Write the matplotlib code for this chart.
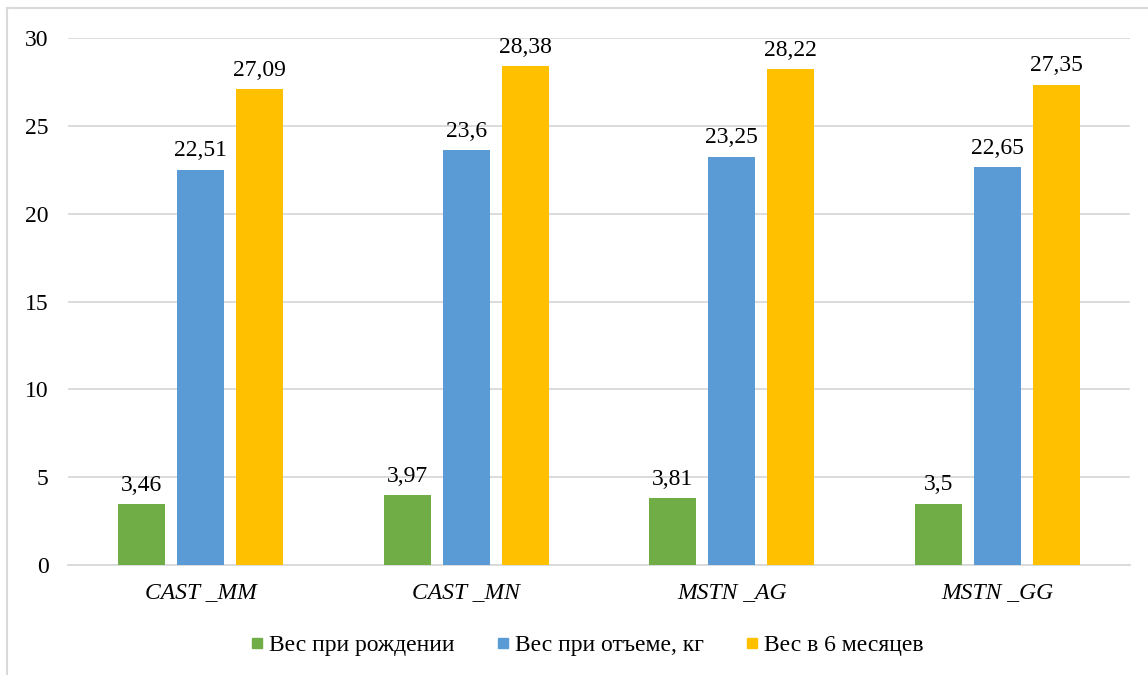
import matplotlib
matplotlib.use("Agg")
import matplotlib.pyplot as plt
import numpy as np
from matplotlib.lines import Line2D

categories = ["CAST _MM", "CAST _MN", "MSTN _AG", "MSTN _GG"]
series_names = ["Вес при рождении", "Вес при отъеме, кг", "Вес в 6 месяцев"]
birth = [3.46, 3.97, 3.81, 3.5]
weaning = [22.51, 23.6, 23.25, 22.65]
six_months = [27.09, 28.38, 28.22, 27.35]
yticks = [0, 5, 10, 15, 20, 25, 30]

colors = ["#70AD47", "#5B9BD5", "#FFC000"]

plt.rcParams["font.family"] = ["Liberation Serif", "DejaVu Serif"]
FS = 17

fig = plt.figure(figsize=(11.48, 6.75), dpi=100)
ax = fig.add_axes([68 / 1148, 1 - 565 / 675, 1062 / 1148, 527 / 675])

x = np.arange(len(categories))
width = 0.177
step = 0.222
for i, (vals, name, c) in enumerate(zip([birth, weaning, six_months], series_names, colors)):
    pos = x + (i - 1) * step
    bars = ax.bar(pos, vals, width=width, color=c, label=name, zorder=3)
    for b, v in zip(bars, vals):
        ax.annotate(f"{v:g}".replace(".", ","), (b.get_x() + b.get_width() / 2, v),
                    xytext=(0, 6), textcoords="offset points",
                    ha="center", va="bottom", fontsize=FS, color="#000000")

ax.set_xlim(-0.5, 3.5)
ax.set_ylim(0, 30)
ax.set_yticks(yticks)
ax.set_yticklabels([str(t) for t in yticks], fontsize=FS)
ax.set_xticks(x)
ax.set_xticklabels(categories, fontsize=FS, style="italic")
ax.tick_params(axis="both", length=0)
ax.tick_params(axis="y", pad=14)
ax.tick_params(axis="x", pad=12)
ax.yaxis.grid(True, color="#D9D9D9", linewidth=1.3, zorder=0)
for s in ["top", "right", "left"]:
    ax.spines[s].set_visible(False)
ax.spines["bottom"].set_color("#D9D9D9")
ax.spines["bottom"].set_linewidth(1.3)

handles = [Line2D([], [], marker="s", linestyle="none", markersize=7.5,
                  markerfacecolor=c, markeredgecolor=c) for c in colors]
fig.legend(handles, series_names, loc="center", bbox_to_anchor=(585 / 1148, 1 - 645 / 675),
           ncol=3, frameon=False, fontsize=FS, handletextpad=0.05, columnspacing=1.6,
           handlelength=0.9)

# chart frame
fig.add_artist(Line2D([7 / 1148, 7 / 1148], [0, 1 - 8 / 675], color="#D9D9D9", linewidth=1.5,
                      transform=fig.transFigure))
fig.add_artist(Line2D([7 / 1148, 1], [1 - 8 / 675, 1 - 8 / 675], color="#D9D9D9", linewidth=1.5,
                      transform=fig.transFigure))

fig.savefig("out.png", dpi=100)
